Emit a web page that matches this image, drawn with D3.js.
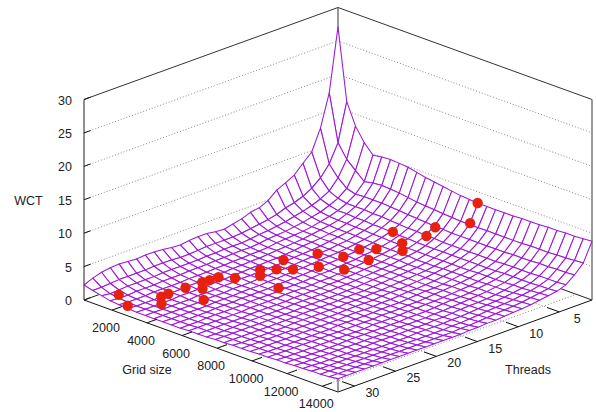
<!DOCTYPE html>
<html><head><meta charset="utf-8">
<script src="https://cdnjs.cloudflare.com/ajax/libs/d3/7.8.5/d3.min.js"></script>
<style>html,body{margin:0;background:#fff}svg{display:block}text{font-family:"Liberation Sans",sans-serif;font-size:12.5px;fill:#222}</style>
</head><body><svg id="c" width="596" height="412"></svg>
<script>
const gridTicks=[2000,4000,6000,8000,10000,12000,14000];
const threadTicks=[5,10,15,20,25,30];
const wctTicks=[0,5,10,15,20,25,30];
const meshGrid=[400,900,1400,1900,2400,2900,3400,3900,4400,4900,5400,5900,6400,6900,7400,7900,8400,8900,9400,9900,10400,10900,11400,11900,12400,12900,13400,13900,14400,14900];
const meshThreads=[1,2.07,3.14,4.21,5.28,6.34,7.41,8.48,9.55,10.62,11.69,12.76,13.83,14.9,15.97,17.03,18.1,19.17,20.24,21.31,22.38,23.45,24.52,25.59,26.66,27.72,28.79,29.86,30.93,32];
const meshWct=[
[27.1,16.4,13.2,11.2,9.8,10.0,10.1,10.0,9.9,9.6,9.3,9.1,8.9,8.7,8.5,8.4,8.3,8.3,8.3,8.3,8.3,8.4,8.4,8.4,8.5,8.5,8.6,8.6,8.7,8.8],
[17.7,10.7,8.7,7.5,6.3,6.6,6.7,6.6,6.5,6.3,6.1,6.0,5.9,5.8,5.7,5.6,5.6,5.6,5.6,5.6,5.6,5.6,5.6,5.7,5.7,5.7,5.8,5.8,5.9,6.0],
[12.9,8.0,6.4,5.3,4.9,5.0,5.0,5.0,4.9,4.8,4.7,4.6,4.5,4.4,4.4,4.3,4.3,4.3,4.3,4.3,4.3,4.3,4.4,4.4,4.4,4.5,4.5,4.6,4.6,4.7],
[9.8,6.4,4.9,4.3,4.0,4.0,4.0,3.9,3.9,3.8,3.7,3.6,3.6,3.5,3.5,3.4,3.4,3.4,3.4,3.4,3.4,3.4,3.5,3.5,3.5,3.5,3.6,3.6,3.6,3.7],
[8.6,5.3,4.2,3.7,3.4,3.4,3.3,3.3,3.2,3.2,3.1,3.0,3.0,2.9,2.9,2.9,2.9,2.9,2.9,2.9,2.9,2.9,2.9,3.0,3.0,3.0,3.0,3.1,3.1,3.2],
[7.3,4.6,3.7,3.2,3.0,2.9,2.9,2.8,2.8,2.7,2.7,2.6,2.6,2.5,2.5,2.5,2.5,2.5,2.5,2.5,2.5,2.6,2.6,2.6,2.6,2.7,2.7,2.8,2.9,3.0],
[6.6,4.1,3.3,2.9,2.7,2.6,2.5,2.5,2.5,2.4,2.4,2.3,2.3,2.3,2.3,2.2,2.2,2.2,2.3,2.3,2.3,2.3,2.3,2.4,2.4,2.4,2.5,2.6,2.7,2.8],
[6.0,3.8,3.0,2.6,2.4,2.4,2.3,2.3,2.2,2.2,2.2,2.1,2.1,2.1,2.1,2.0,2.0,2.0,2.1,2.1,2.1,2.1,2.1,2.2,2.2,2.2,2.3,2.4,2.5,2.6],
[4.9,3.3,2.7,2.4,2.2,2.2,2.1,2.1,2.1,2.0,2.0,2.0,1.9,1.9,1.9,1.9,1.9,1.9,1.9,1.9,1.9,2.0,2.0,2.0,2.1,2.1,2.2,2.3,2.4,2.5],
[4.3,3.0,2.5,2.2,2.1,2.0,2.0,1.9,1.9,1.9,1.9,1.8,1.8,1.8,1.8,1.8,1.8,1.8,1.8,1.8,1.8,1.9,1.9,1.9,2.0,2.0,2.1,2.2,2.3,2.4],
[4.1,2.8,2.3,2.1,2.0,1.9,1.9,1.8,1.8,1.8,1.8,1.7,1.7,1.7,1.7,1.7,1.7,1.7,1.7,1.7,1.8,1.8,1.8,1.9,1.9,2.0,2.0,2.1,2.2,2.3],
[3.6,2.6,2.2,2.0,1.9,1.8,1.7,1.7,1.7,1.7,1.7,1.6,1.6,1.6,1.6,1.6,1.6,1.6,1.6,1.7,1.7,1.7,1.7,1.8,1.8,1.9,1.9,2.0,2.1,2.2],
[3.3,2.4,2.0,1.8,1.7,1.7,1.6,1.6,1.6,1.6,1.6,1.5,1.5,1.5,1.5,1.5,1.5,1.5,1.6,1.6,1.6,1.6,1.7,1.7,1.7,1.8,1.8,1.9,2.0,2.2],
[3.0,2.3,1.9,1.7,1.6,1.6,1.5,1.5,1.5,1.5,1.5,1.5,1.4,1.4,1.4,1.4,1.4,1.5,1.5,1.5,1.5,1.6,1.6,1.6,1.7,1.7,1.8,1.8,1.9,2.1],
[3.1,2.3,1.9,1.7,1.6,1.5,1.5,1.4,1.4,1.4,1.4,1.4,1.4,1.4,1.4,1.4,1.4,1.4,1.4,1.5,1.5,1.5,1.6,1.6,1.6,1.7,1.7,1.8,1.9,2.1],
[3.3,2.3,1.9,1.7,1.5,1.5,1.4,1.4,1.4,1.4,1.4,1.3,1.3,1.3,1.3,1.3,1.4,1.4,1.4,1.4,1.5,1.5,1.5,1.6,1.6,1.6,1.7,1.7,1.8,2.0],
[3.3,2.3,1.8,1.6,1.5,1.4,1.4,1.3,1.3,1.3,1.3,1.3,1.3,1.3,1.3,1.3,1.3,1.4,1.4,1.4,1.4,1.5,1.5,1.5,1.6,1.6,1.7,1.7,1.8,2.0],
[3.2,2.2,1.8,1.6,1.4,1.4,1.3,1.3,1.3,1.3,1.3,1.3,1.3,1.3,1.3,1.3,1.3,1.3,1.4,1.4,1.4,1.4,1.5,1.5,1.6,1.6,1.7,1.7,1.8,2.0],
[3.0,2.1,1.7,1.5,1.4,1.3,1.3,1.3,1.2,1.2,1.2,1.2,1.3,1.3,1.3,1.3,1.3,1.3,1.3,1.4,1.4,1.4,1.5,1.5,1.5,1.6,1.6,1.7,1.8,2.0],
[3.1,2.1,1.7,1.5,1.3,1.3,1.2,1.2,1.2,1.2,1.2,1.2,1.2,1.2,1.3,1.3,1.3,1.3,1.3,1.3,1.4,1.4,1.4,1.5,1.5,1.6,1.6,1.7,1.8,2.0],
[3.3,2.2,1.7,1.5,1.3,1.2,1.2,1.2,1.2,1.2,1.2,1.2,1.2,1.2,1.2,1.2,1.3,1.3,1.3,1.3,1.4,1.4,1.4,1.5,1.5,1.6,1.6,1.7,1.8,2.0],
[3.4,2.2,1.7,1.4,1.3,1.2,1.2,1.1,1.1,1.1,1.2,1.2,1.2,1.2,1.2,1.2,1.2,1.3,1.3,1.3,1.3,1.4,1.4,1.5,1.5,1.6,1.6,1.7,1.8,2.0],
[3.4,2.2,1.7,1.4,1.2,1.2,1.1,1.1,1.1,1.1,1.1,1.1,1.2,1.2,1.2,1.2,1.2,1.3,1.3,1.3,1.3,1.4,1.4,1.5,1.5,1.5,1.6,1.7,1.8,2.0],
[3.3,2.1,1.6,1.4,1.2,1.1,1.1,1.1,1.1,1.1,1.1,1.1,1.1,1.2,1.2,1.2,1.2,1.2,1.3,1.3,1.3,1.4,1.4,1.4,1.5,1.5,1.6,1.7,1.8,2.0],
[3.4,2.1,1.6,1.3,1.2,1.1,1.1,1.0,1.0,1.0,1.1,1.1,1.1,1.1,1.2,1.2,1.2,1.2,1.3,1.3,1.3,1.4,1.4,1.4,1.5,1.5,1.6,1.7,1.8,2.0],
[3.5,2.1,1.6,1.3,1.2,1.1,1.0,1.0,1.0,1.0,1.0,1.1,1.1,1.1,1.2,1.2,1.2,1.2,1.3,1.3,1.3,1.4,1.4,1.4,1.5,1.5,1.6,1.7,1.8,2.0],
[3.4,2.1,1.6,1.3,1.1,1.0,1.0,1.0,1.0,1.0,1.0,1.1,1.1,1.1,1.1,1.2,1.2,1.2,1.3,1.3,1.3,1.4,1.4,1.4,1.5,1.5,1.6,1.7,1.8,2.0],
[3.2,2.0,1.5,1.2,1.1,1.0,1.0,1.0,1.0,1.0,1.0,1.0,1.1,1.1,1.1,1.2,1.2,1.2,1.3,1.3,1.3,1.4,1.4,1.4,1.5,1.5,1.6,1.7,1.8,2.0],
[2.8,1.9,1.4,1.2,1.1,1.0,1.0,1.0,1.0,1.0,1.0,1.0,1.1,1.1,1.1,1.2,1.2,1.2,1.3,1.3,1.3,1.4,1.4,1.5,1.5,1.6,1.6,1.7,1.8,2.0],
[2.25,1.9,1.6,1.3,1.2,1.1,1.0,1.0,1.0,1.0,1.0,1.0,1.1,1.1,1.1,1.2,1.2,1.3,1.3,1.3,1.4,1.4,1.5,1.5,1.6,1.6,1.7,1.7,1.8,2.0]
];
const pointGrid=[1775,2517,3126,3329,3155,3387,3590,3844,4286,3735,3866,4344,4750,4939,5170,5055,5642,5845,5787,6272,6600,7070,6903,7483,7360,7273,7897,8201,8397,8382,9158,9260];
const pointThreads=[30.7,31.2,28.4,28.8,27.6,26,24.4,24.9,25.7,23.8,23,22,19.8,20.2,18.7,17.6,17.7,19.9,15,15.9,13.6,14.5,12.3,12.4,11.2,9,9.2,9.8,7.3,6.2,3.6,2.9];
const pointWct=[1.5,.8,1.5,.8,1.6,2,2.3,1.8,.9,2.5,2.7,2.6,3.2,2.7,3.2,4,3.2,1.6,4.5,3.4,4.2,3.1,5,4,5,6.5,5.5,4.9,6.2,7,7.2,10];

const svg=d3.select("#c");
const U=d3.scaleLinear().domain([400,14900]).range([0,254]);
const V=d3.scaleLinear().domain([1,32]).range([0,254]);
const Z=d3.scaleLinear().domain([0,30]).range([0,200.5]);
const xMin=400,xMax=14900,tMin=1,tMax=32,zMax=30;
const px=(g,t,w)=>338+U(g)-V(t);
const py=(g,t,w)=>208+(U(g)+V(t))*92/254-Z(w);
const pt=(g,t,w)=>[px(g,t,w),py(g,t,w)];
const line=d3.line();
const dot="1,2";
function seg(pts,color,dash,width){svg.append("path").attr("d",line(pts)).attr("fill","none").attr("stroke",color).attr("stroke-width",width||1).attr("stroke-dasharray",dash||null);}
wctTicks.filter(d=>d>0&&d<30).forEach(w=>{
  seg([pt(xMin,tMax,w),pt(xMin,tMin,w),pt(xMax,tMin,w)],"#888",dot);
});
gridTicks.forEach(g=>seg([pt(g,tMax,0),pt(g,tMin,0)],"#888",dot));
threadTicks.forEach(t=>seg([pt(xMax,t,0),pt(xMin,t,0)],"#888",dot));
seg([pt(xMin,tMax,0),pt(xMin,tMin,0),pt(xMax,tMin,0)],"#222");
seg([pt(xMin,tMax,zMax),pt(xMin,tMin,zMax),pt(xMax,tMin,zMax)],"#333");
seg([pt(xMin,tMin,0),pt(xMin,tMin,zMax)],"#555",null,1.2);
seg([pt(xMax,tMin,0),pt(xMax,tMin,zMax)],"#777",null,1.5);
const cells=[];
for(let j=0;j<meshThreads.length-1;j++)for(let i=0;i<meshGrid.length-1;i++)cells.push([i,j]);
cells.sort((a,b)=>(a[0]+a[1])-(b[0]+b[1]));
const gm=svg.append("g");
gm.selectAll("path").data(cells).join("path")
 .attr("d",([i,j])=>line([[i,j],[i+1,j],[i+1,j+1],[i,j+1]].map(([a,b])=>pt(meshGrid[a],meshThreads[b],meshWct[b][a])))+"Z")
 .attr("fill","#fff").attr("stroke","#9c18d8").attr("stroke-width",1.05).attr("stroke-linejoin","round");
seg([pt(xMin,tMax,0),pt(xMax,tMax,0),pt(xMax,tMin,0)],"#111");
seg([pt(xMin,tMax,0),pt(xMin,tMax,zMax)],"#444",null,1.2);
seg([pt(xMax,tMax,0),pt(xMax,tMax,meshWct[29][29])],"#555",null,1.2);
gridTicks.forEach(g=>{seg([pt(g,tMax,0),pt(g,tMax-1.2,0)],"#111");});
threadTicks.forEach(t=>{seg([pt(xMax,t,0),pt(xMax-700,t,0)],"#111");});
wctTicks.forEach(w=>{seg([pt(xMin,tMax,w),pt(xMin,tMax-0.8,w)],"#111");});
function label(x,y,s,anchor){svg.append("text").attr("x",x).attr("y",y+1).attr("text-anchor",anchor||"middle").attr("dominant-baseline","central").text(s);}
wctTicks.forEach(w=>label(72,py(xMin,tMax,w),w,"end"));
gridTicks.forEach(g=>label(px(g,tMax,0)-6,py(g,tMax,0)+17,g));
threadTicks.forEach(t=>label(px(xMax,t,0)+18,py(xMax,t,0)+6,t));
label(28.5,200,"WCT");
label(147,369,"Grid size");
label(528,369,"Threads");
svg.append("g").selectAll("circle").data(pointGrid.map((g,i)=>i)).join("circle")
 .attr("cx",i=>px(pointGrid[i],pointThreads[i],pointWct[i]))
 .attr("cy",i=>py(pointGrid[i],pointThreads[i],pointWct[i]))
 .attr("r",5.2).attr("fill","#e8200e");
</script></body></html>
